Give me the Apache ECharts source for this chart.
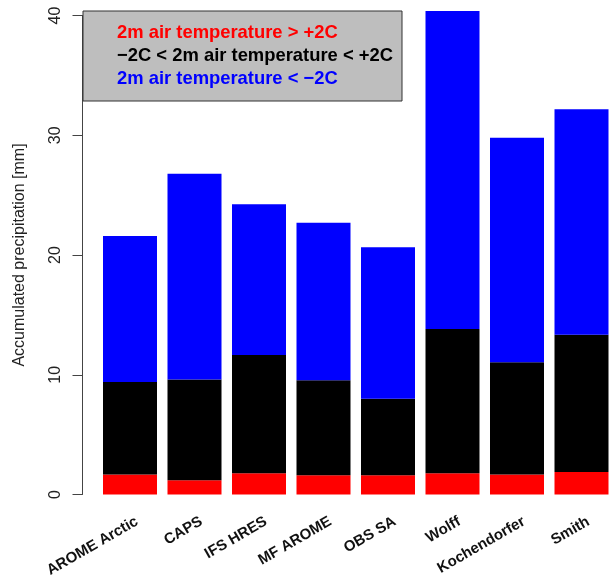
<!DOCTYPE html>
<html>
<head>
<meta charset="utf-8">
<script src="https://cdn.jsdelivr.net/npm/echarts@6/dist/echarts.min.js"></script>
<style>
  html, body { margin: 0; padding: 0; background: #fff; }
  #chart { width: 611px; height: 576px; }
</style>
</head>
<body>
<div id="chart"></div>
<script>
// categories and stacked segment values (mm)
const categories = ['AROME Arctic', 'CAPS', 'IFS HRES', 'MF AROME', 'OBS SA', 'Wolff', 'Kochendorfer', 'Smith'];
const warm = [1.67, 1.2, 1.78, 1.6, 1.6, 1.78, 1.67, 1.87];         // > +2C
const mixed = [7.72, 8.41, 9.86, 7.95, 6.39, 12.04, 9.37, 11.47];   // -2C .. +2C
const cold = [12.2, 17.18, 12.59, 13.15, 12.65, 26.56, 18.76, 18.83]; // < -2C
const yTicks = { min: 0, max: 40, interval: 10 };

const names = ['2m air temperature > +2C', '\u22122C < 2m air temperature < +2C', '2m air temperature < \u22122C'];
const colors = ['#ff0000', '#000000', '#0000ff'];
const font = 'Liberation Sans, Arial, sans-serif';

const chart = echarts.init(document.getElementById('chart'), null, { renderer: 'canvas' });

function barSeries(i, data) {
  return {
    name: names[i],
    type: 'bar',
    stack: 'total',
    data: data,
    clip: false,
    barWidth: 54,
    itemStyle: { color: colors[i] },
    emphasis: { disabled: true }
  };
}

chart.setOption({
  animation: false,
  textStyle: { fontFamily: font },
  grid: {
    left: 97.75, top: 15.5, width: 516, bottom: 81.5,
    containLabel: false, outerBoundsMode: 'none'
  },
  legend: {
    orient: 'vertical',
    left: 83,
    top: 11,
    backgroundColor: '#bebebe',
    borderColor: '#333',
    borderWidth: 1,
    padding: [10.5, 9, 10.5, 29],
    itemWidth: 0,
    itemHeight: 0,
    itemGap: 0,
    icon: 'rect',
    selectedMode: false,
    textStyle: { fontSize: 18.4, fontWeight: 'bold', lineHeight: 23, fontFamily: font },
    data: names.map((n, i) => ({ name: n, textStyle: { color: colors[i] } }))
  },
  xAxis: {
    type: 'category',
    data: categories,
    axisLine: { show: false },
    axisTick: { show: false },
    axisLabel: {
      rotate: 30,
      interval: 0,
      margin: 30,
      padding: [0, -8, 0, 0],
      fontSize: 15,
      fontWeight: 'bold',
      color: '#111'
    }
  },
  yAxis: {
    type: 'value',
    min: yTicks.min,
    max: yTicks.max,
    interval: yTicks.interval,
    offset: 15.25,
    name: 'Accumulated precipitation [mm]',
    nameLocation: 'middle',
    nameGap: 55,
    nameTextStyle: { fontSize: 16, color: '#222' },
    axisLine: { show: true, lineStyle: { color: '#444', width: 1 } },
    axisTick: { show: true, length: 10, lineStyle: { color: '#444' } },
    axisLabel: { rotate: 90, margin: 19, fontSize: 16, color: '#222' },
    splitLine: { show: false }
  },
  series: [barSeries(0, warm), barSeries(1, mixed), barSeries(2, cold)]
});
</script>
</body>
</html>
